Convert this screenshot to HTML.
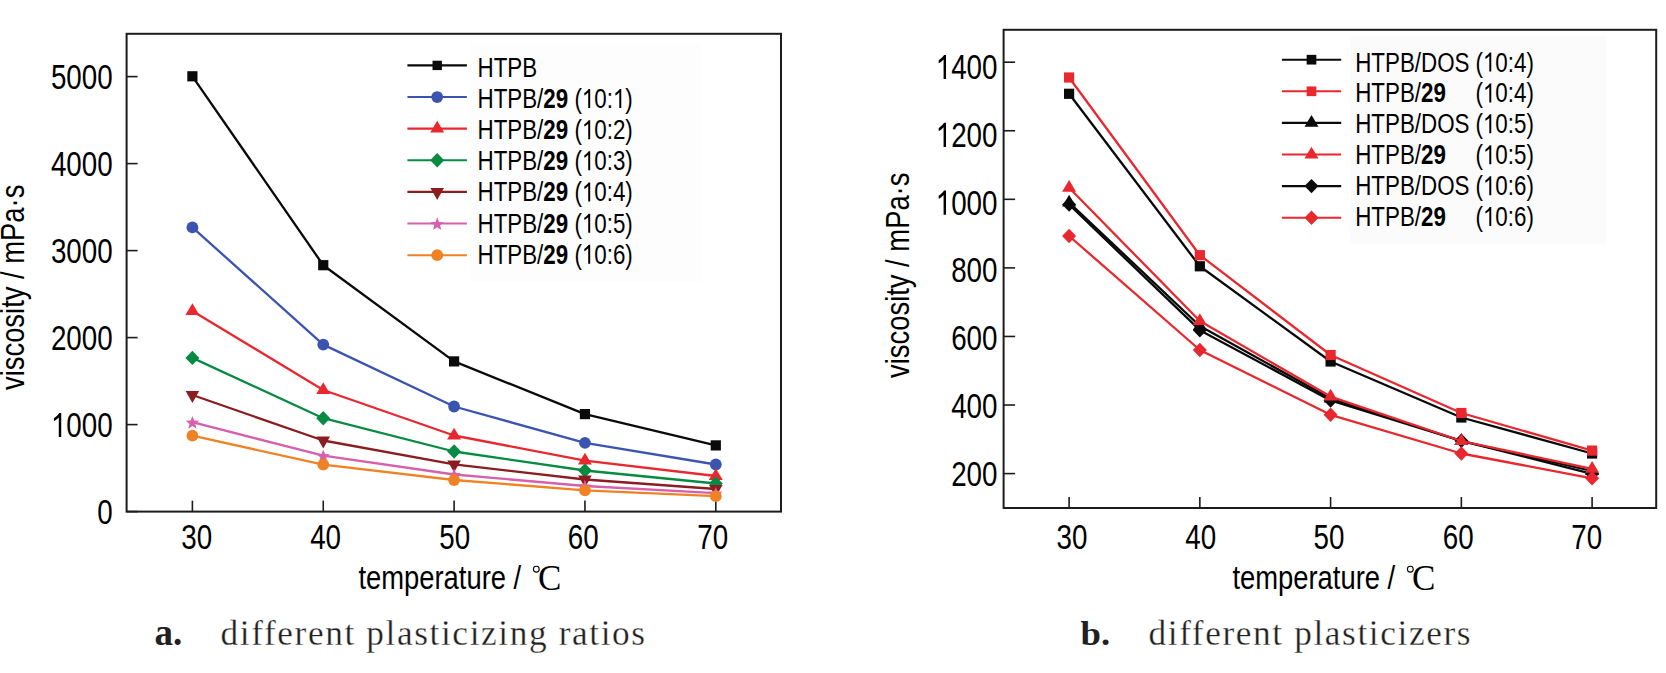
<!DOCTYPE html>
<html><head><meta charset="utf-8"><title>viscosity</title><style>
html,body{margin:0;padding:0;background:#fff;}
svg{display:block;}
svg text{font-family:"Liberation Sans",sans-serif;}
.sf{font-family:"Liberation Serif",serif !important;}
</style></head><body>
<svg width="1666" height="673" viewBox="0 0 1666 673">
<rect width="1666" height="673" fill="#fff"/>
<rect x="470" y="43.5" width="231.5" height="238" fill="#fdfdfd"/>
<rect x="1350.5" y="36" width="256" height="208.4" fill="#fbfbfb"/>
<rect x="126.6" y="33.8" width="654.40" height="477.80" fill="none" stroke="#1c1c1c" stroke-width="2"/>
<line x1="126.6" y1="511.60" x2="137.60" y2="511.60" stroke="#1c1c1c" stroke-width="1.6"/>
<text transform="translate(97.245,524.000) scale(0.794,1)" font-size="35.0">0</text>
<line x1="126.6" y1="424.60" x2="137.60" y2="424.60" stroke="#1c1c1c" stroke-width="1.6"/>
<text transform="translate(50.878,437.000) scale(0.794,1)" font-size="35.0"> 000</text><path transform="translate(50.878,437.000) scale(0.013569,-0.017090)" d="M763 0H583V1147Q518 1085 412 1023Q307 961 223 930V1104Q374 1175 487 1276Q580 1360 620 1409H763Z"/>
<line x1="126.6" y1="337.60" x2="137.60" y2="337.60" stroke="#1c1c1c" stroke-width="1.6"/>
<text transform="translate(50.878,350.000) scale(0.794,1)" font-size="35.0">2000</text>
<line x1="126.6" y1="250.60" x2="137.60" y2="250.60" stroke="#1c1c1c" stroke-width="1.6"/>
<text transform="translate(50.878,263.000) scale(0.794,1)" font-size="35.0">3000</text>
<line x1="126.6" y1="163.60" x2="137.60" y2="163.60" stroke="#1c1c1c" stroke-width="1.6"/>
<text transform="translate(50.878,176.000) scale(0.794,1)" font-size="35.0">4000</text>
<line x1="126.6" y1="76.60" x2="137.60" y2="76.60" stroke="#1c1c1c" stroke-width="1.6"/>
<text transform="translate(50.878,89.000) scale(0.794,1)" font-size="35.0">5000</text>
<line x1="192.40" y1="511.6" x2="192.40" y2="500.60" stroke="#1c1c1c" stroke-width="1.6"/>
<line x1="323.25" y1="511.6" x2="323.25" y2="500.60" stroke="#1c1c1c" stroke-width="1.6"/>
<line x1="454.10" y1="511.6" x2="454.10" y2="500.60" stroke="#1c1c1c" stroke-width="1.6"/>
<line x1="584.95" y1="511.6" x2="584.95" y2="500.60" stroke="#1c1c1c" stroke-width="1.6"/>
<line x1="715.80" y1="511.6" x2="715.80" y2="500.60" stroke="#1c1c1c" stroke-width="1.6"/>
<text transform="translate(181.245,549.000) scale(0.794,1)" font-size="35.0">30</text>
<text transform="translate(310.145,549.000) scale(0.794,1)" font-size="35.0">40</text>
<text transform="translate(439.245,549.000) scale(0.794,1)" font-size="35.0">50</text>
<text transform="translate(567.845,549.000) scale(0.794,1)" font-size="35.0">60</text>
<text transform="translate(697.345,549.000) scale(0.794,1)" font-size="35.0">70</text>
<polyline points="192.40,76.30 323.25,265.20 454.10,361.40 584.95,414.10 715.80,445.40" fill="none" stroke="#0a0a0a" stroke-width="2.3" stroke-linejoin="round"/>
<rect x="187.30" y="71.20" width="10.20" height="10.20" fill="#0a0a0a"/>
<rect x="318.15" y="260.10" width="10.20" height="10.20" fill="#0a0a0a"/>
<rect x="449.00" y="356.30" width="10.20" height="10.20" fill="#0a0a0a"/>
<rect x="579.85" y="409.00" width="10.20" height="10.20" fill="#0a0a0a"/>
<rect x="710.70" y="440.30" width="10.20" height="10.20" fill="#0a0a0a"/>
<polyline points="192.40,227.40 323.25,344.60 454.10,406.50 584.95,442.80 715.80,464.50" fill="none" stroke="#3b54b0" stroke-width="2.3" stroke-linejoin="round"/>
<circle cx="192.40" cy="227.40" r="5.90" fill="#3b54b0"/>
<circle cx="323.25" cy="344.60" r="5.90" fill="#3b54b0"/>
<circle cx="454.10" cy="406.50" r="5.90" fill="#3b54b0"/>
<circle cx="584.95" cy="442.80" r="5.90" fill="#3b54b0"/>
<circle cx="715.80" cy="464.50" r="5.90" fill="#3b54b0"/>
<polyline points="192.40,311.00 323.25,390.00 454.10,435.50 584.95,460.60 715.80,476.00" fill="none" stroke="#e8282e" stroke-width="2.3" stroke-linejoin="round"/>
<polygon points="185.40,314.90 199.40,314.90 192.40,303.20" fill="#e8282e"/>
<polygon points="316.25,393.90 330.25,393.90 323.25,382.20" fill="#e8282e"/>
<polygon points="447.10,439.40 461.10,439.40 454.10,427.70" fill="#e8282e"/>
<polygon points="577.95,464.50 591.95,464.50 584.95,452.80" fill="#e8282e"/>
<polygon points="708.80,479.90 722.80,479.90 715.80,468.20" fill="#e8282e"/>
<polyline points="192.40,357.90 323.25,418.20 454.10,451.50 584.95,470.50 715.80,483.50" fill="none" stroke="#078a42" stroke-width="2.3" stroke-linejoin="round"/>
<polygon points="185.40,357.90 192.40,350.70 199.40,357.90 192.40,365.10" fill="#078a42"/>
<polygon points="316.25,418.20 323.25,411.00 330.25,418.20 323.25,425.40" fill="#078a42"/>
<polygon points="447.10,451.50 454.10,444.30 461.10,451.50 454.10,458.70" fill="#078a42"/>
<polygon points="577.95,470.50 584.95,463.30 591.95,470.50 584.95,477.70" fill="#078a42"/>
<polygon points="708.80,483.50 715.80,476.30 722.80,483.50 715.80,490.70" fill="#078a42"/>
<polyline points="192.40,395.00 323.25,440.50 454.10,464.40 584.95,479.50 715.80,489.00" fill="none" stroke="#8b1c20" stroke-width="2.3" stroke-linejoin="round"/>
<polygon points="185.60,391.00 199.20,391.00 192.40,403.00" fill="#8b1c20"/>
<polygon points="316.45,436.50 330.05,436.50 323.25,448.50" fill="#8b1c20"/>
<polygon points="447.30,460.40 460.90,460.40 454.10,472.40" fill="#8b1c20"/>
<polygon points="578.15,475.50 591.75,475.50 584.95,487.50" fill="#8b1c20"/>
<polygon points="709.00,485.00 722.60,485.00 715.80,497.00" fill="#8b1c20"/>
<polyline points="192.40,422.20 323.25,455.70 454.10,474.50 584.95,486.00 715.80,493.20" fill="none" stroke="#d660ab" stroke-width="2.3" stroke-linejoin="round"/>
<polygon points="192.40,416.00 194.16,420.57 199.06,420.84 195.25,423.93 196.51,428.66 192.40,426.00 188.29,428.66 189.55,423.93 185.74,420.84 190.64,420.57" fill="#d660ab"/>
<polygon points="323.25,449.50 325.01,454.07 329.91,454.34 326.10,457.43 327.36,462.16 323.25,459.50 319.14,462.16 320.40,457.43 316.59,454.34 321.49,454.07" fill="#d660ab"/>
<polygon points="454.10,468.30 455.86,472.87 460.76,473.14 456.95,476.23 458.21,480.96 454.10,478.30 449.99,480.96 451.25,476.23 447.44,473.14 452.34,472.87" fill="#d660ab"/>
<polygon points="584.95,479.80 586.71,484.37 591.61,484.64 587.80,487.73 589.06,492.46 584.95,489.80 580.84,492.46 582.10,487.73 578.29,484.64 583.19,484.37" fill="#d660ab"/>
<polygon points="715.80,487.00 717.56,491.57 722.46,491.84 718.65,494.93 719.91,499.66 715.80,497.00 711.69,499.66 712.95,494.93 709.14,491.84 714.04,491.57" fill="#d660ab"/>
<polyline points="192.40,435.70 323.25,464.60 454.10,480.00 584.95,490.30 715.80,496.20" fill="none" stroke="#f08226" stroke-width="2.3" stroke-linejoin="round"/>
<circle cx="192.40" cy="435.70" r="5.90" fill="#f08226"/>
<circle cx="323.25" cy="464.60" r="5.90" fill="#f08226"/>
<circle cx="454.10" cy="480.00" r="5.90" fill="#f08226"/>
<circle cx="584.95" cy="490.30" r="5.90" fill="#f08226"/>
<circle cx="715.80" cy="496.20" r="5.90" fill="#f08226"/>
<line x1="407.4" y1="65.40" x2="466.9" y2="65.40" stroke="#0a0a0a" stroke-width="2.1"/>
<rect x="432.51" y="60.71" width="9.38" height="9.38" fill="#0a0a0a"/>
<text transform="translate(477.50,76.80) scale(0.81,1)" font-size="27.6" text-anchor="start" >HTPB</text>
<line x1="407.4" y1="97.03" x2="466.9" y2="97.03" stroke="#3b54b0" stroke-width="2.1"/>
<circle cx="437.20" cy="97.03" r="5.90" fill="#3b54b0"/>
<text transform="translate(477.500,107.970) scale(0.81,1)" font-size="27.6">HTPB/<tspan font-weight="bold">29</tspan> ( 0: )</text><path transform="translate(581.857,107.970) scale(0.010916,-0.013477)" d="M763 0H583V1147Q518 1085 412 1023Q307 961 223 930V1104Q374 1175 487 1276Q580 1360 620 1409H763Z"/><path transform="translate(612.935,107.970) scale(0.010916,-0.013477)" d="M763 0H583V1147Q518 1085 412 1023Q307 961 223 930V1104Q374 1175 487 1276Q580 1360 620 1409H763Z"/>
<line x1="407.4" y1="128.66" x2="466.9" y2="128.66" stroke="#e8282e" stroke-width="2.1"/>
<polygon points="430.20,132.56 444.20,132.56 437.20,120.86" fill="#e8282e"/>
<text transform="translate(477.500,139.140) scale(0.81,1)" font-size="27.6">HTPB/<tspan font-weight="bold">29</tspan> ( 0:2)</text><path transform="translate(581.857,139.140) scale(0.010916,-0.013477)" d="M763 0H583V1147Q518 1085 412 1023Q307 961 223 930V1104Q374 1175 487 1276Q580 1360 620 1409H763Z"/>
<line x1="407.4" y1="160.29" x2="466.9" y2="160.29" stroke="#078a42" stroke-width="2.1"/>
<polygon points="430.20,160.29 437.20,153.09 444.20,160.29 437.20,167.49" fill="#078a42"/>
<text transform="translate(477.500,170.310) scale(0.81,1)" font-size="27.6">HTPB/<tspan font-weight="bold">29</tspan> ( 0:3)</text><path transform="translate(581.857,170.310) scale(0.010916,-0.013477)" d="M763 0H583V1147Q518 1085 412 1023Q307 961 223 930V1104Q374 1175 487 1276Q580 1360 620 1409H763Z"/>
<line x1="407.4" y1="191.92" x2="466.9" y2="191.92" stroke="#8b1c20" stroke-width="2.1"/>
<polygon points="430.40,187.92 444.00,187.92 437.20,199.92" fill="#8b1c20"/>
<text transform="translate(477.500,201.480) scale(0.81,1)" font-size="27.6">HTPB/<tspan font-weight="bold">29</tspan> ( 0:4)</text><path transform="translate(581.857,201.480) scale(0.010916,-0.013477)" d="M763 0H583V1147Q518 1085 412 1023Q307 961 223 930V1104Q374 1175 487 1276Q580 1360 620 1409H763Z"/>
<line x1="407.4" y1="223.55" x2="466.9" y2="223.55" stroke="#d660ab" stroke-width="2.1"/>
<polygon points="437.20,217.35 438.96,221.92 443.86,222.19 440.05,225.28 441.31,230.01 437.20,227.35 433.09,230.01 434.35,225.28 430.54,222.19 435.44,221.92" fill="#d660ab"/>
<text transform="translate(477.500,232.650) scale(0.81,1)" font-size="27.6">HTPB/<tspan font-weight="bold">29</tspan> ( 0:5)</text><path transform="translate(581.857,232.650) scale(0.010916,-0.013477)" d="M763 0H583V1147Q518 1085 412 1023Q307 961 223 930V1104Q374 1175 487 1276Q580 1360 620 1409H763Z"/>
<line x1="407.4" y1="255.18" x2="466.9" y2="255.18" stroke="#f08226" stroke-width="2.1"/>
<circle cx="437.20" cy="255.18" r="5.90" fill="#f08226"/>
<text transform="translate(477.500,263.820) scale(0.81,1)" font-size="27.6">HTPB/<tspan font-weight="bold">29</tspan> ( 0:6)</text><path transform="translate(581.857,263.820) scale(0.010916,-0.013477)" d="M763 0H583V1147Q518 1085 412 1023Q307 961 223 930V1104Q374 1175 487 1276Q580 1360 620 1409H763Z"/>
<text transform="translate(24.4,390) rotate(-90) scale(0.81,1)" font-size="33.8">viscosity / mPa·s</text>
<text transform="translate(358.4,589.3) scale(0.81,1)" font-size="33.8">temperature / </text>
<circle cx="536.30" cy="569.20" r="2.9" fill="none" stroke="#000" stroke-width="1.1"/><text x="537.90" y="589.80" font-size="35" class="sf">C</text>
<rect x="1003.6" y="29.8" width="652.60" height="478.20" fill="none" stroke="#1c1c1c" stroke-width="2"/>
<line x1="1003.6" y1="473.60" x2="1015.10" y2="473.60" stroke="#1c1c1c" stroke-width="1.6"/>
<text transform="translate(951.134,485.800) scale(0.794,1)" font-size="35.0">200</text>
<line x1="1003.6" y1="405.03" x2="1015.10" y2="405.03" stroke="#1c1c1c" stroke-width="1.6"/>
<text transform="translate(951.134,418.020) scale(0.794,1)" font-size="35.0">400</text>
<line x1="1003.6" y1="336.46" x2="1015.10" y2="336.46" stroke="#1c1c1c" stroke-width="1.6"/>
<text transform="translate(951.134,350.240) scale(0.794,1)" font-size="35.0">600</text>
<line x1="1003.6" y1="267.89" x2="1015.10" y2="267.89" stroke="#1c1c1c" stroke-width="1.6"/>
<text transform="translate(951.134,282.460) scale(0.794,1)" font-size="35.0">800</text>
<line x1="1003.6" y1="199.32" x2="1015.10" y2="199.32" stroke="#1c1c1c" stroke-width="1.6"/>
<text transform="translate(935.678,214.680) scale(0.794,1)" font-size="35.0"> 000</text><path transform="translate(935.678,214.680) scale(0.013569,-0.017090)" d="M763 0H583V1147Q518 1085 412 1023Q307 961 223 930V1104Q374 1175 487 1276Q580 1360 620 1409H763Z"/>
<line x1="1003.6" y1="130.75" x2="1015.10" y2="130.75" stroke="#1c1c1c" stroke-width="1.6"/>
<text transform="translate(935.678,146.900) scale(0.794,1)" font-size="35.0"> 200</text><path transform="translate(935.678,146.900) scale(0.013569,-0.017090)" d="M763 0H583V1147Q518 1085 412 1023Q307 961 223 930V1104Q374 1175 487 1276Q580 1360 620 1409H763Z"/>
<line x1="1003.6" y1="62.18" x2="1015.10" y2="62.18" stroke="#1c1c1c" stroke-width="1.6"/>
<text transform="translate(935.678,79.120) scale(0.794,1)" font-size="35.0"> 400</text><path transform="translate(935.678,79.120) scale(0.013569,-0.017090)" d="M763 0H583V1147Q518 1085 412 1023Q307 961 223 930V1104Q374 1175 487 1276Q580 1360 620 1409H763Z"/>
<line x1="1069.10" y1="508.0" x2="1069.10" y2="497.00" stroke="#1c1c1c" stroke-width="1.6"/>
<line x1="1199.85" y1="508.0" x2="1199.85" y2="497.00" stroke="#1c1c1c" stroke-width="1.6"/>
<line x1="1330.60" y1="508.0" x2="1330.60" y2="497.00" stroke="#1c1c1c" stroke-width="1.6"/>
<line x1="1461.35" y1="508.0" x2="1461.35" y2="497.00" stroke="#1c1c1c" stroke-width="1.6"/>
<line x1="1592.10" y1="508.0" x2="1592.10" y2="497.00" stroke="#1c1c1c" stroke-width="1.6"/>
<text transform="translate(1056.445,549.100) scale(0.794,1)" font-size="35.0">30</text>
<text transform="translate(1185.245,549.100) scale(0.794,1)" font-size="35.0">40</text>
<text transform="translate(1313.545,549.100) scale(0.794,1)" font-size="35.0">50</text>
<text transform="translate(1442.745,549.100) scale(0.794,1)" font-size="35.0">60</text>
<text transform="translate(1571.245,549.100) scale(0.794,1)" font-size="35.0">70</text>
<polyline points="1069.10,93.80 1199.85,266.30 1330.60,361.50 1461.35,417.50 1592.10,453.50" fill="none" stroke="#0a0a0a" stroke-width="2.3" stroke-linejoin="round"/>
<rect x="1064.00" y="88.70" width="10.20" height="10.20" fill="#0a0a0a"/>
<rect x="1194.75" y="261.20" width="10.20" height="10.20" fill="#0a0a0a"/>
<rect x="1325.50" y="356.40" width="10.20" height="10.20" fill="#0a0a0a"/>
<rect x="1456.25" y="412.40" width="10.20" height="10.20" fill="#0a0a0a"/>
<rect x="1587.00" y="448.40" width="10.20" height="10.20" fill="#0a0a0a"/>
<polyline points="1069.10,202.60 1199.85,326.00 1330.60,398.50 1461.35,441.00 1592.10,471.00" fill="none" stroke="#0a0a0a" stroke-width="2.3" stroke-linejoin="round"/>
<polygon points="1062.10,206.50 1076.10,206.50 1069.10,194.80" fill="#0a0a0a"/>
<polygon points="1192.85,329.90 1206.85,329.90 1199.85,318.20" fill="#0a0a0a"/>
<polygon points="1323.60,402.40 1337.60,402.40 1330.60,390.70" fill="#0a0a0a"/>
<polygon points="1454.35,444.90 1468.35,444.90 1461.35,433.20" fill="#0a0a0a"/>
<polygon points="1585.10,474.90 1599.10,474.90 1592.10,463.20" fill="#0a0a0a"/>
<polyline points="1069.10,204.50 1199.85,330.20 1330.60,400.50 1461.35,440.80 1592.10,473.80" fill="none" stroke="#0a0a0a" stroke-width="2.3" stroke-linejoin="round"/>
<polygon points="1062.10,204.50 1069.10,197.30 1076.10,204.50 1069.10,211.70" fill="#0a0a0a"/>
<polygon points="1192.85,330.20 1199.85,323.00 1206.85,330.20 1199.85,337.40" fill="#0a0a0a"/>
<polygon points="1323.60,400.50 1330.60,393.30 1337.60,400.50 1330.60,407.70" fill="#0a0a0a"/>
<polygon points="1454.35,440.80 1461.35,433.60 1468.35,440.80 1461.35,448.00" fill="#0a0a0a"/>
<polygon points="1585.10,473.80 1592.10,466.60 1599.10,473.80 1592.10,481.00" fill="#0a0a0a"/>
<polyline points="1069.10,77.50 1199.85,255.20 1330.60,355.00 1461.35,413.00 1592.10,450.60" fill="none" stroke="#e8282e" stroke-width="2.3" stroke-linejoin="round"/>
<rect x="1064.00" y="72.40" width="10.20" height="10.20" fill="#e8282e"/>
<rect x="1194.75" y="250.10" width="10.20" height="10.20" fill="#e8282e"/>
<rect x="1325.50" y="349.90" width="10.20" height="10.20" fill="#e8282e"/>
<rect x="1456.25" y="407.90" width="10.20" height="10.20" fill="#e8282e"/>
<rect x="1587.00" y="445.50" width="10.20" height="10.20" fill="#e8282e"/>
<polyline points="1069.10,187.80 1199.85,321.00 1330.60,396.60 1461.35,441.00 1592.10,468.80" fill="none" stroke="#e8282e" stroke-width="2.3" stroke-linejoin="round"/>
<polygon points="1062.10,191.70 1076.10,191.70 1069.10,180.00" fill="#e8282e"/>
<polygon points="1192.85,324.90 1206.85,324.90 1199.85,313.20" fill="#e8282e"/>
<polygon points="1323.60,400.50 1337.60,400.50 1330.60,388.80" fill="#e8282e"/>
<polygon points="1454.35,444.90 1468.35,444.90 1461.35,433.20" fill="#e8282e"/>
<polygon points="1585.10,472.70 1599.10,472.70 1592.10,461.00" fill="#e8282e"/>
<polyline points="1069.10,236.00 1199.85,350.00 1330.60,414.80 1461.35,453.50 1592.10,478.30" fill="none" stroke="#e8282e" stroke-width="2.3" stroke-linejoin="round"/>
<polygon points="1062.10,236.00 1069.10,228.80 1076.10,236.00 1069.10,243.20" fill="#e8282e"/>
<polygon points="1192.85,350.00 1199.85,342.80 1206.85,350.00 1199.85,357.20" fill="#e8282e"/>
<polygon points="1323.60,414.80 1330.60,407.60 1337.60,414.80 1330.60,422.00" fill="#e8282e"/>
<polygon points="1454.35,453.50 1461.35,446.30 1468.35,453.50 1461.35,460.70" fill="#e8282e"/>
<polygon points="1585.10,478.30 1592.10,471.10 1599.10,478.30 1592.10,485.50" fill="#e8282e"/>
<line x1="1281.9" y1="59.70" x2="1341.2" y2="59.70" stroke="#0a0a0a" stroke-width="2.1"/>
<rect x="1306.65" y="54.86" width="9.69" height="9.69" fill="#0a0a0a"/>
<text transform="translate(1355.200,71.500) scale(0.81,1)" font-size="27.6">HTPB/DOS</text>
<text transform="translate(1475.500,71.500) scale(0.81,1)" font-size="27.6">( 0:4)</text><path transform="translate(1482.945,71.500) scale(0.010916,-0.013477)" d="M763 0H583V1147Q518 1085 412 1023Q307 961 223 930V1104Q374 1175 487 1276Q580 1360 620 1409H763Z"/>
<line x1="1281.9" y1="91.30" x2="1341.2" y2="91.30" stroke="#e8282e" stroke-width="2.1"/>
<rect x="1306.65" y="86.46" width="9.69" height="9.69" fill="#e8282e"/>
<text transform="translate(1355.200,102.420) scale(0.81,1)" font-size="27.6">HTPB/<tspan font-weight="bold">29</tspan></text>
<text transform="translate(1475.500,102.420) scale(0.81,1)" font-size="27.6">( 0:4)</text><path transform="translate(1482.945,102.420) scale(0.010916,-0.013477)" d="M763 0H583V1147Q518 1085 412 1023Q307 961 223 930V1104Q374 1175 487 1276Q580 1360 620 1409H763Z"/>
<line x1="1281.9" y1="122.90" x2="1341.2" y2="122.90" stroke="#0a0a0a" stroke-width="2.1"/>
<polygon points="1304.50,126.80 1318.50,126.80 1311.50,115.10" fill="#0a0a0a"/>
<text transform="translate(1355.200,133.340) scale(0.81,1)" font-size="27.6">HTPB/DOS</text>
<text transform="translate(1475.500,133.340) scale(0.81,1)" font-size="27.6">( 0:5)</text><path transform="translate(1482.945,133.340) scale(0.010916,-0.013477)" d="M763 0H583V1147Q518 1085 412 1023Q307 961 223 930V1104Q374 1175 487 1276Q580 1360 620 1409H763Z"/>
<line x1="1281.9" y1="154.50" x2="1341.2" y2="154.50" stroke="#e8282e" stroke-width="2.1"/>
<polygon points="1304.50,158.40 1318.50,158.40 1311.50,146.70" fill="#e8282e"/>
<text transform="translate(1355.200,164.260) scale(0.81,1)" font-size="27.6">HTPB/<tspan font-weight="bold">29</tspan></text>
<text transform="translate(1475.500,164.260) scale(0.81,1)" font-size="27.6">( 0:5)</text><path transform="translate(1482.945,164.260) scale(0.010916,-0.013477)" d="M763 0H583V1147Q518 1085 412 1023Q307 961 223 930V1104Q374 1175 487 1276Q580 1360 620 1409H763Z"/>
<line x1="1281.9" y1="186.10" x2="1341.2" y2="186.10" stroke="#0a0a0a" stroke-width="2.1"/>
<polygon points="1304.50,186.10 1311.50,178.90 1318.50,186.10 1311.50,193.30" fill="#0a0a0a"/>
<text transform="translate(1355.200,195.180) scale(0.81,1)" font-size="27.6">HTPB/DOS</text>
<text transform="translate(1475.500,195.180) scale(0.81,1)" font-size="27.6">( 0:6)</text><path transform="translate(1482.945,195.180) scale(0.010916,-0.013477)" d="M763 0H583V1147Q518 1085 412 1023Q307 961 223 930V1104Q374 1175 487 1276Q580 1360 620 1409H763Z"/>
<line x1="1281.9" y1="217.70" x2="1341.2" y2="217.70" stroke="#e8282e" stroke-width="2.1"/>
<polygon points="1304.50,217.70 1311.50,210.50 1318.50,217.70 1311.50,224.90" fill="#e8282e"/>
<text transform="translate(1355.200,226.100) scale(0.81,1)" font-size="27.6">HTPB/<tspan font-weight="bold">29</tspan></text>
<text transform="translate(1475.500,226.100) scale(0.81,1)" font-size="27.6">( 0:6)</text><path transform="translate(1482.945,226.100) scale(0.010916,-0.013477)" d="M763 0H583V1147Q518 1085 412 1023Q307 961 223 930V1104Q374 1175 487 1276Q580 1360 620 1409H763Z"/>
<text transform="translate(909.3,377.9) rotate(-90) scale(0.81,1)" font-size="33.8">viscosity / mPa·s</text>
<text transform="translate(1232.4,589.3) scale(0.81,1)" font-size="33.8">temperature / </text>
<circle cx="1410.30" cy="569.20" r="2.9" fill="none" stroke="#000" stroke-width="1.1"/><text x="1411.90" y="589.80" font-size="35" class="sf">C</text>
<text x="154.6" y="644.8" font-size="37" font-weight="bold" class="sf" fill="#231f20">a.</text>
<text transform="translate(220.6,644.8) scale(1.0,1)" font-size="35.3" letter-spacing="1.6" class="sf" fill="#231f20" stroke="#fff" stroke-width="0.3">different plasticizing ratios</text>
<text transform="translate(1080.6,645.4) scale(1.08,1)" font-size="34" font-weight="bold" class="sf" fill="#231f20">b.</text>
<text transform="translate(1148.5,644.8) scale(1.0,1)" font-size="35.3" letter-spacing="1.6" class="sf" fill="#231f20" stroke="#fff" stroke-width="0.3">different plasticizers</text>
</svg>
</body></html>
